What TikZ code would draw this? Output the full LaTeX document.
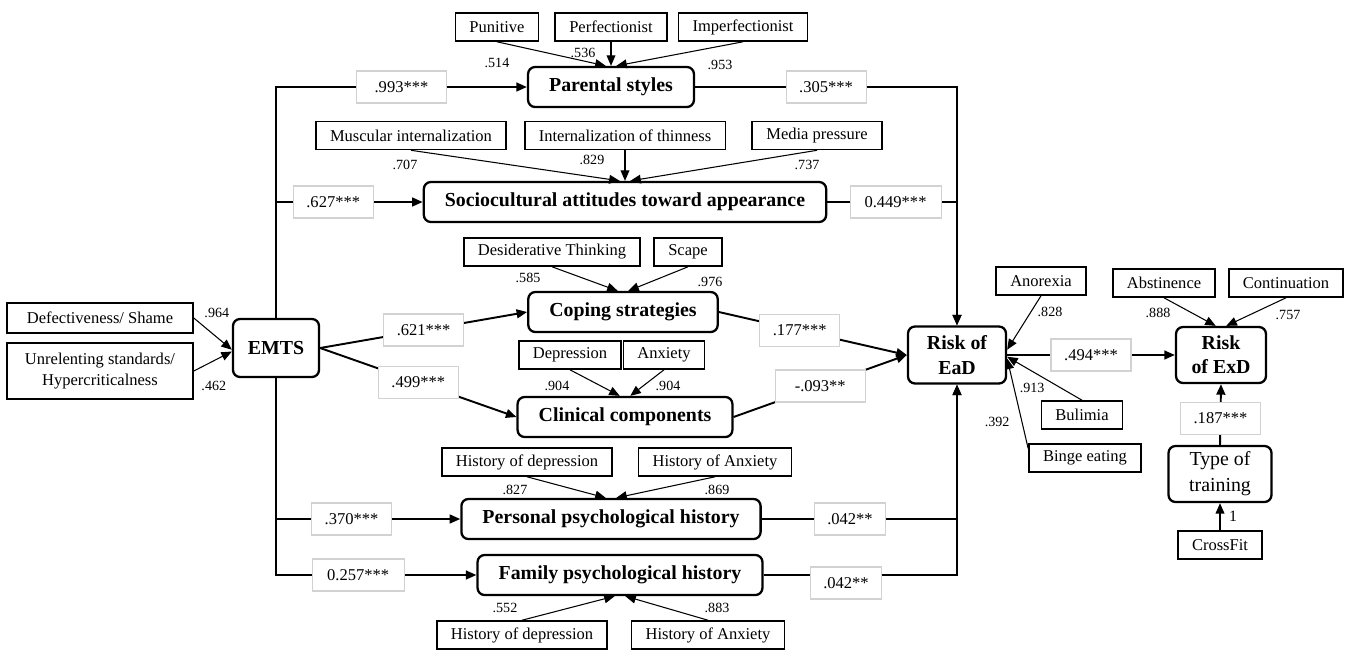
\documentclass[tikz,border=0pt]{standalone}
\usepackage{fontspec}
\setmainfont{Liberation Serif}
\usetikzlibrary{arrows.meta,positioning,shapes}

\begin{document}
\begin{tikzpicture}[node distance = 1.2cm, latent/.style = {rectangle, draw,
			rounded corners=4pt, line width=1.3pt, inner xsep=12pt, minimum
			height=0.8cm, font=\fontsize{11.3}{13.8}\selectfont\bfseries}, item/.style =
		{rectangle, draw, line width=0.9pt, inner xsep=8pt, minimum height=0.56cm,
			font=\fontsize{9.4}{12.3}\selectfont}, coef/.style = {rectangle,
			draw=gray!35, line width=0.6pt, fill=white, inner xsep=4pt, minimum
			width=1.6cm, minimum height=0.64cm, font=\fontsize{9.4}{11}\selectfont},
		load/.style = {inner sep=1pt, font=\fontsize{8}{9}\selectfont},
		arrow/.style = {-{Triangle[length=6pt, width=5pt]}, line width=1.1pt},
		thinarrow/.style = {-{Triangle[length=6pt, width=5pt]}, line width=0.6pt}
	]

	\useasboundingbox (0,0) rectangle (26.96,-12.98);

	% Nodes
	\node [latent, minimum width=1.72cm, minimum height=1.16cm, inner xsep=4pt]
	(EMTS) at (5.52,-6.96) {EMTS};
	\node [item, minimum width=3.72cm, minimum height=0.6cm] (DS) at (2.0,-6.36)
	{Defectiveness/ Shame};
	\node [item, align=center, minimum width=3.72cm, minimum height=1.12cm] (US)
	at (2.0,-7.42) {Unrelenting standards/\\Hypercriticalness};

	\node [latent] (PS) at (12.22,-1.74) {Parental styles};
	\node [item, above of=PS, xshift=-2.28cm] (PUN) {Punitive};
	\node [item, above of=PS] (PER) {Perfectionist};
	\node [item, above of=PS, xshift=2.64cm] (IMP) {Imperfectionist};

	\node [latent] (SA) at (12.5,-4.04) {Sociocultural attitudes toward appearance};
	\node [item, above of=SA, xshift=-4.28cm, yshift=0.13cm] (MI) {Muscular
		internalization};
	\node [item, above of=SA, yshift=0.13cm] (IT) {Internalization of thinness};
	\node [item, above of=SA, xshift=3.84cm, yshift=0.13cm] (MP) {Media pressure};

	\node [latent] (CS) at (12.46,-6.24) {Coping strategies};
	\node [item, above of=CS, xshift=-1.42cm] (DT) {Desiderative Thinking};
	\node [item, above of=CS, xshift=1.3cm] (SC) {Scape};

	\node [latent] (CC) at (12.5,-8.34) {Clinical components};
	\node [item, above of=CC, xshift=-1.1cm, yshift=0.04cm] (DEP) {Depression};
	\node [item, above of=CC, xshift=0.78cm, yshift=0.04cm] (ANX) {Anxiety};

	\node [latent] (PH) at (12.22,-10.38) {Personal psychological history};
	\node [item, above of=PH, xshift=-1.68cm, yshift=-0.06cm] (PHD) {History of
		depression};
	\node [item, above of=PH, xshift=2.08cm, yshift=-0.06cm] (PHA) {History of
		Anxiety};

	\node [latent] (FH) at (12.4,-11.5) {Family psychological history};
	\node [item, below of=FH, xshift=-1.96cm] (FHD) {History of depression};
	\node [item, below of=FH, xshift=1.76cm] (FHA) {History of Anxiety};

	\node [latent, align=center, minimum width=1.96cm, minimum height=1.14cm,
		inner xsep=4pt] (EAD) at (19.14,-7.1) {Risk of\\EaD};
	\node [item] (ANO) at (20.82,-5.62) {Anorexia};
	\node [item] (BUL) at (21.64,-8.3) {Bulimia};
	\node [item] (BIN) at (21.7,-9.16) {Binge eating};

	\node [latent, align=center, minimum width=1.8cm, minimum height=1.12cm,
		inner xsep=4pt] (EXD) at (24.42,-7.1) {Risk\\of ExD};
	\node [item] (ABS) at (23.28,-5.66) {Abstinence};
	\node [item] (CON) at (25.72,-5.66) {Continuation};
	\node [latent, align=center, minimum width=2.06cm, minimum height=1.12cm,
		inner xsep=4pt, font=\fontsize{11.3}{14.7}\selectfont] (TT) at
	(24.4,-9.48) {Type of\\training};
	\node [item] (CF) at (24.4,-10.9) {CrossFit};

	% Indicators
	\draw [thinarrow] (DS.east) -- node[load, at start, xshift=0.46cm,
			yshift=0.1cm] {.964} ([yshift=-1pt]EMTS.west);
	\draw [thinarrow] (US.east) -- node[load, at start, xshift=0.4cm,
			yshift=-0.3cm] {.462} ([yshift=-2pt]EMTS.west);

	\draw [thinarrow] (PUN.south) -- node[load, at start, yshift=-0.42cm] {.514}
	([xshift=-3pt]PS.north);
	\draw [thinarrow] (PER.south) -- node[load, at start, xshift=-0.56cm,
			yshift=-0.22cm] {.536} (PS.north);
	\draw [thinarrow] (IMP.south) -- node[load, at start, xshift=-0.46cm,
			yshift=-0.46cm] {.953} ([xshift=3pt]PS.north);

	\draw [thinarrow] (MI.south) -- node[load, at start, xshift=-0.12cm,
			yshift=-0.3cm] {.707} ([xshift=-3pt]SA.north);
	\draw [thinarrow] (IT.south) -- node[load, at start, xshift=-0.66cm,
			yshift=-0.2cm] {.829} (SA.north);
	\draw [thinarrow] (MP.south) -- node[load, at start, xshift=-0.2cm,
			yshift=-0.3cm] {.737} ([xshift=3pt]SA.north);

	\draw [thinarrow] (DT.south) -- node[load, at start, xshift=-0.48cm,
			yshift=-0.22cm] {.585} ([xshift=-3pt]CS.north);
	\draw [thinarrow] (SC.south) -- node[load, at start, xshift=0.44cm,
			yshift=-0.3cm] {.976} ([xshift=3pt]CS.north);

	\draw [thinarrow] (DEP.south) -- node[load, at start, xshift=-0.26cm,
			yshift=-0.32cm] {.904} ([xshift=-3pt]CC.north);
	\draw [thinarrow] (ANX.south) -- node[load, at start, xshift=0.08cm,
			yshift=-0.32cm] {.904} ([xshift=3pt]CC.north);

	\draw [thinarrow] (PHD.south) -- node[load, at start, xshift=-0.24cm,
			yshift=-0.26cm] {.827} ([xshift=-3pt]PH.north);
	\draw [thinarrow] (PHA.south) -- node[load, at start, xshift=0.04cm,
			yshift=-0.26cm] {.869} ([xshift=3pt]PH.north);

	\draw [thinarrow] (FHD.north) -- node[load, at start, xshift=-0.34cm,
			yshift=0.24cm] {.552} ([xshift=-3pt]FH.south);
	\draw [thinarrow] (FHA.north) -- node[load, at start, xshift=0.18cm,
			yshift=0.24cm] {.883} ([xshift=3pt]FH.south);

	\draw [thinarrow] (ANO.south) -- node[load, at start, xshift=0.18cm,
			yshift=-0.32cm] {.828} ([yshift=3pt]EAD.east);
	\draw [thinarrow] (BUL.north) -- node[load, at end, xshift=0.5cm,
			yshift=-0.62cm] {.913} ([yshift=-1pt]EAD.east);
	\draw [thinarrow] ([yshift=-3pt]BIN.north west) -- node[load, at start,
			xshift=-0.62cm, yshift=0.54cm] {.392} ([yshift=-2pt]EAD.east);

	\draw [thinarrow] (ABS.south) -- node[load, at start, xshift=-0.12cm,
			yshift=-0.3cm] {.888} ([xshift=-3pt]EXD.north);
	\draw [thinarrow] (CON.south) -- node[load, at start, xshift=0.04cm,
			yshift=-0.34cm] {.757} ([xshift=3pt]EXD.north);
	\draw [thinarrow, line width=0.8pt] (CF.north) -- node[load, at start,
			xshift=0.26cm, yshift=0.28cm, font=\fontsize{9}{10}\selectfont] {1}
	(TT.south);

	% Arrows
	\draw [arrow] (EMTS.north) |- node[coef, pos=0.75, minimum width=1.8cm]
	{.993***} (PS.west);
	\draw [arrow] (EMTS.north) |- node[coef, pos=0.695] {.627***} (SA.west);
	\draw [arrow] (EMTS.east) -- node[coef] {.621***} (CS.west);
	\draw [arrow] (EMTS.east) -- node[coef] {.499***} (CC.west);
	\draw [arrow] (EMTS.south) |- node[coef, pos=0.705] {.370***} (PH.west);
	\draw [arrow] (EMTS.south) |- node[coef, pos=0.705, minimum width=1.84cm]
	{0.257***} (FH.west);

	\draw [arrow] (PS.east) -| node[coef, pos=0.25] {.305***} (EAD.north);
	\draw [arrow] (SA.east) -| node[coef, pos=0.263, minimum width=1.82cm]
	{0.449***} (EAD.north);
	\draw [arrow] (CS.east) -- node[coef, pos=0.43] {.177***} (EAD.west);
	\draw [arrow] (CC.east) -- node[coef, minimum width=1.8cm] {-.093**}
	(EAD.west);
	\draw [arrow] (PH.east) -| node[coef, pos=0.226, minimum width=1.42cm]
	{.042**} (EAD.south);
	\draw [arrow] (FH.east) -| node[coef, pos=0.213, yshift=-0.16cm, minimum
			width=1.42cm] {.042**} (EAD.south);

	\draw [arrow] (EAD.east) -- node[coef] {.494***} (EXD.west);
	\draw [arrow] (TT.north) -- node[coef, pos=0.44] {.187***} (EXD.south);
\end{tikzpicture}
\end{document}
